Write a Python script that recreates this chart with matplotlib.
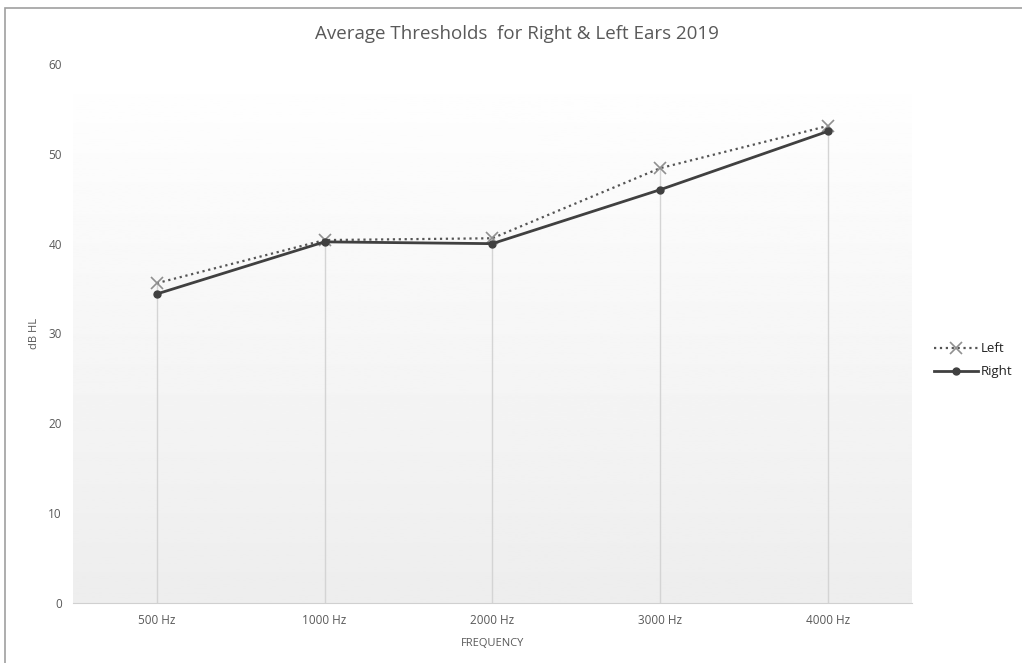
import numpy as np
import matplotlib
matplotlib.use("Agg")
from matplotlib import pyplot as plt
from matplotlib.patches import Rectangle

freqs = ["500 Hz", "1000 Hz", "2000 Hz", "3000 Hz", "4000 Hz"]
left_ear = [35.6, 40.4, 40.6, 48.4, 53.1]
right_ear = [34.4, 40.2, 40.0, 46.0, 52.5]

plt.rcParams['font.family'] = ['Open Sans', 'DejaVu Sans']
txt = '#595959'

fig = plt.figure(figsize=(10.22, 6.63), dpi=100)
ax = fig.add_axes([0.0714, 0.0905, 0.8206, 0.813])

x = np.arange(len(freqs))

# soft vertical gradient behind the plot area
grad = np.linspace(0.93, 1.0, 256).reshape(-1, 1)
ax.imshow(grad, cmap='gray', vmin=0, vmax=1, aspect='auto', origin='lower',
          extent=[0, 1, 0, 1], transform=ax.transAxes, zorder=0)

# drop lines from the highest point to the axis
for xi, a, b in zip(x, left_ear, right_ear):
    ax.plot([xi, xi], [0, max(a, b)], color='#d4d4d4', lw=1, zorder=1)

ax.plot(x, left_ear, linestyle=':', color='#555555', lw=1.6, marker='x',
        markersize=9, markeredgecolor='#909090', markeredgewidth=1.2,
        label='Left', zorder=3)
ax.plot(x, right_ear, linestyle='-', color='#404040', lw=2, marker='o',
        markersize=5, label='Right', zorder=4)

ax.set_xlim(-0.5, len(freqs) - 0.5)
ax.set_ylim(0, 60)
ax.set_yticks(range(0, 61, 10))
ax.set_xticks(x)
ax.set_xticklabels(freqs)
ax.tick_params(axis='both', length=0, labelsize=8.5, colors=txt, pad=8)
for s in ['top', 'right', 'left']:
    ax.spines[s].set_visible(False)
ax.spines['bottom'].set_color('#d0d0d0')

fig.text(0.506, 0.948, "Average Thresholds  for Right & Left Ears 2019",
         fontsize=13.5, color=txt, ha='center', va='center')
ax.set_ylabel("dB HL", fontsize=8, color=txt, labelpad=6)
ax.set_xlabel("FREQUENCY", fontsize=8, color=txt, labelpad=8)

ax.legend(loc='center left', bbox_to_anchor=(1.012, 0.45), frameon=False,
          fontsize=9.5, handlelength=3.4, labelspacing=0.75, handletextpad=0.15,
          labelcolor='#222222')

fig.patches.append(Rectangle((0.005, -0.01), 1.0, 0.998, transform=fig.transFigure,
                             fill=False, edgecolor='#a0a0a0', lw=1.2))

fig.savefig("out.png", dpi=100, facecolor='white')
